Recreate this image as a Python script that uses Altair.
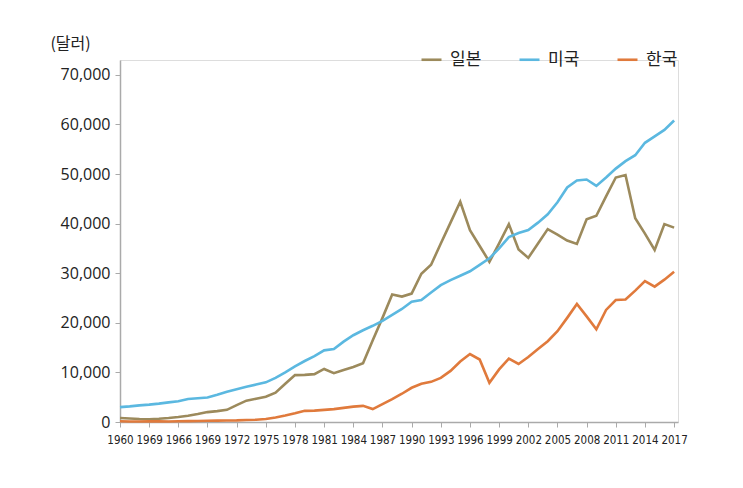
import altair as alt
import pandas as pd

years = list(range(1960, 2018))

japan = [800, 700, 600, 550, 650, 800, 1000, 1250, 1600, 2000,
         2200, 2450, 3400, 4300, 4700, 5100, 5900, 7700, 9450, 9500,
         9650, 10700, 9850, 10500, 11100, 11850, 16500, 21000, 25700, 25300,
         25900, 29900, 31700, 36000, 40200, 44400, 38700, 35500, 32300, 36000,
         39900, 34800, 33100, 36000, 38900, 37800, 36600, 35900, 40900, 41600,
         45500, 49300, 49800, 41100, 38000, 34700, 39900, 39200]

usa = [3000, 3150, 3350, 3500, 3700, 3950, 4200, 4650, 4800, 4950,
       5500, 6100, 6600, 7100, 7550, 8000, 8900, 10000, 11200, 12300,
       13300, 14450, 14700, 16200, 17500, 18500, 19400, 20400, 21600, 22800,
       24250, 24600, 26100, 27600, 28600, 29500, 30400, 31700, 33000, 35000,
       37300, 38100, 38700, 40200, 41900, 44300, 47300, 48700, 48900, 47600,
       49300, 51100, 52600, 53800, 56300, 57600, 58900, 60800]

korea = [160, 100, 110, 150, 130, 110, 140, 170, 200, 250,
         280, 310, 330, 410, 450, 600, 900, 1300, 1750, 2250,
         2300, 2450, 2600, 2850, 3100, 3250, 2600, 3600, 4600, 5700,
         6900, 7700, 8100, 8900, 10300, 12200, 13700, 12600, 7900, 10600,
         12800, 11700, 13100, 14700, 16300, 18300, 21000, 23800, 21300, 18700,
         22600, 24600, 24700, 26500, 28400, 27300, 28700, 30300]

series_names = ["일본", "미국", "한국"]
series_colors = ["#9C8A5C", "#5BB8E0", "#E07A3C"]

tick_years = list(range(1960, 2018, 3))
tick_labels = ["1960", "1969", "1966", "1969", "1972", "1975", "1978", "1981",
               "1984", "1987", "1990", "1993", "1996", "1999", "2002", "2005",
               "2008", "2011", "2014", "2017"]
y_ticks = [0, 10000, 20000, 30000, 40000, 50000, 60000, 70000]

rows = []
for name, vals in zip(series_names, [japan, usa, korea]):
    for yr, v in zip(years, vals):
        rows.append({"year": yr, "value": v, "country": name})
df = pd.DataFrame(rows)

label_arr = "[" + ",".join("'" + s + "'" for s in tick_labels) + "]"
label_expr = label_arr + "[round((datum.value - 1960) / 3)]"

chart = alt.Chart(df).mark_line(strokeWidth=2.6).encode(
    x=alt.X("year:Q",
            scale=alt.Scale(domain=[1960, 2017.4], nice=False, zero=False),
            axis=alt.Axis(values=tick_years, labelExpr=label_expr, title=None,
                          grid=False, domainColor="#aaaaaa", domainWidth=1.5,
                          tickColor="#aaaaaa", tickSize=5, tickWidth=1,
                          labelFont="DejaVu Sans Condensed, Roboto", labelFontSize=11.5,
                          labelColor="#222222", labelPadding=7, labelFlush=False)),
    y=alt.Y("value:Q",
            scale=alt.Scale(domain=[0, 73000], nice=False),
            axis=alt.Axis(values=y_ticks, format=",.0f", title="(달러)",
                          titleAngle=0, titleX=-50, titleY=-17,
                          titleAlign="center", titleBaseline="middle",
                          titleFont="Noto Sans CJK KR", titleFontSize=16,
                          titleFontWeight="normal", titleColor="#222222",
                          grid=False, domainColor="#aaaaaa", domainWidth=1.5,
                          tickColor="#aaaaaa", tickSize=5, tickWidth=1,
                          labelFont="Open Sans", labelFontSize=16,
                          labelColor="#222222", labelPadding=5)),
    color=alt.Color("country:N",
                    scale=alt.Scale(domain=series_names, range=series_colors),
                    legend=alt.Legend(title=None, orient="none", direction="horizontal",
                                      legendX=300, legendY=-12, symbolType="stroke",
                                      symbolStrokeWidth=2.6, symbolSize=400,
                                      columnPadding=32, labelFont="Noto Sans CJK KR",
                                      labelFontSize=17, labelColor="#222222",
                                      labelOffset=7)),
    order=alt.Order("year:Q"),
).properties(
    width=558, height=362,
    padding={"left": 120, "top": 60, "right": 65, "bottom": 66},
    autosize=alt.AutoSizeParams(type="none"),
).configure_view(stroke=None).configure(background="white")

chart.save("out.html", embed_options={"renderer": "svg", "actions": False})
